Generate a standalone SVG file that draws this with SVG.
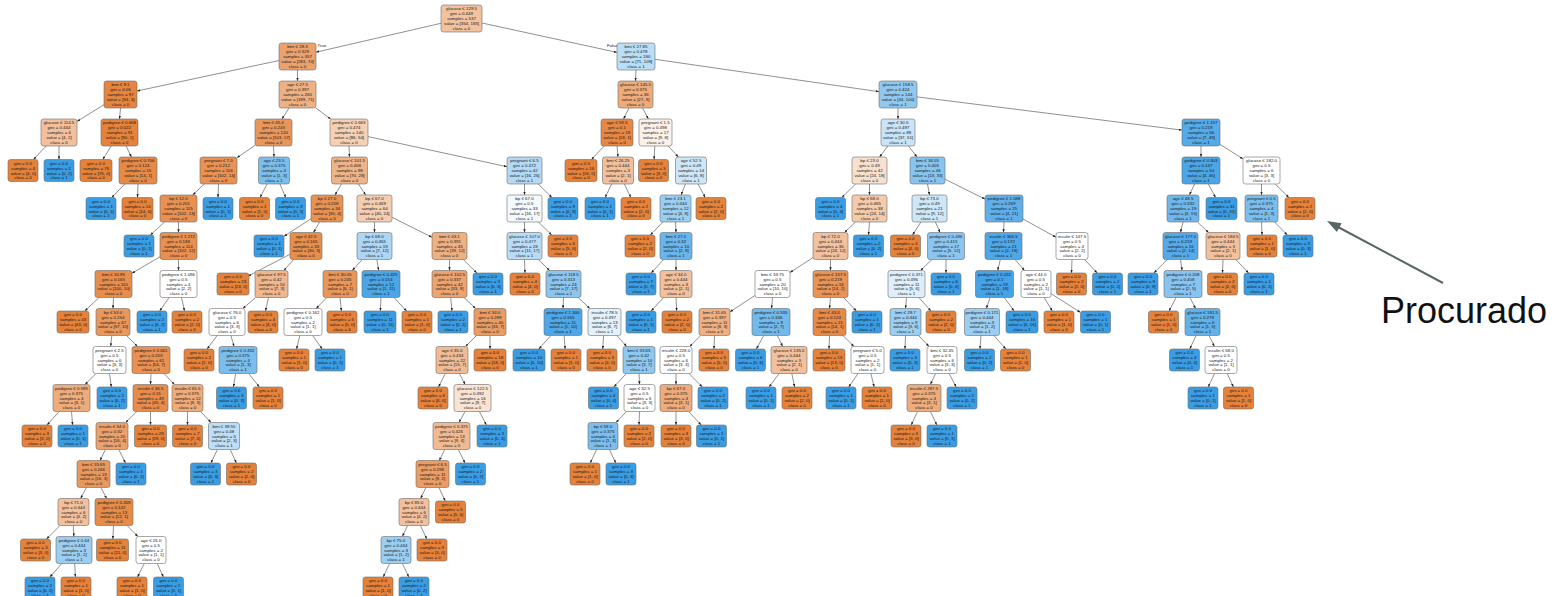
<svg xmlns="http://www.w3.org/2000/svg" width="1562" height="596" viewBox="0 0 1562 596">
<style>
rect{stroke:#6b6b6b;stroke-width:0.6;rx:2.5px;ry:2.5px}
.lo{fill:#e58139}.lb{fill:#399de5}.w{fill:#ffffff}
text{font-family:"Liberation Sans",Arial,sans-serif;font-size:4.4px;text-anchor:middle;fill:#1a1a1a}
#edges path{stroke:#333;stroke-width:0.55;fill:none;marker-end:url(#ah)}
.lbl{text-anchor:start}
</style>
<defs>
<marker id="ah" markerUnits="userSpaceOnUse" viewBox="0 0 3.2 2.4" markerWidth="3.2" markerHeight="2.4" refX="3.2" refY="1.2" orient="auto"><path d="M0,0L3.2,1.2L0,2.4z" fill="#222"/></marker>
</defs>
<rect x="0" y="0" width="1562" height="596" style="fill:#fff;stroke:none"/>
<g id="edges">
<path d="M441 23.3L316 52.2"/><path d="M482 23L617 52.4"/><path d="M279 60.5L137 91"/><path d="M297.5 70L297.5 81"/><path d="M636 70L635.5 81"/><path d="M655 59.3L879 91.7"/>
<path d="M104 104.7L77 121.4"/><path d="M120.5 108L119.5 119"/><path d="M289 108L282 119"/><path d="M315.8 108L330.7 119"/><path d="M628.9 108L623.6 119"/><path d="M642.6 108L648.4 119"/><path d="M898 108L898 119"/><path d="M917 96.9L1182 130.1"/>
<path d="M46.2 146L33.4 159.5"/><path d="M59 146L59 159.5"/><path d="M111.2 146L102.8 159.5"/><path d="M126.1 146L131.4 157"/><path d="M255 145.3L237 157.7"/><path d="M273.5 146L274 157"/><path d="M349 146L349.5 157"/><path d="M368 136.6L507 166.7"/><path d="M604.2 146L591.4 159.5"/><path d="M617 146L618 157"/><path d="M654.8 146L654.1 159.5"/><path d="M668.1 146L678.4 157"/><path d="M887.9 146L879.6 157"/><path d="M908.5 146L917 157"/><path d="M1201 146L1201 157"/><path d="M1220 144.4L1243 158.9"/>
<path d="M124.9 184L111.7 197.5"/><path d="M138 184L137.5 197.5"/><path d="M204.3 184L192.7 195"/><path d="M218.5 184L218 197.5"/><path d="M267.1 184L260.1 197.5"/><path d="M279.9 184L285.7 197.5"/><path d="M341.5 184L335 195"/><path d="M358.4 184L365.6 195"/><path d="M524.5 184L524.5 195"/><path d="M538.2 184L551.9 197.5"/><path d="M611.6 184L605.2 197.5"/><path d="M624.4 184L630.8 197.5"/><path d="M685.5 184L681 195"/><path d="M698.1 184L705.2 197.5"/><path d="M855.6 184L841.8 197.5"/><path d="M869.5 184L869.5 195"/><path d="M927.5 184L929.5 195"/><path d="M945 179.2L985 199.1"/><path d="M1194.6 184L1189.4 195"/><path d="M1208.3 184L1215.6 197.5"/><path d="M1261.5 184L1261.5 195"/><path d="M1275.2 184L1288.9 197.5"/>
<path d="M164.5 222L150.4 235"/><path d="M178.5 222L178.5 232.5"/><path d="M311 218.8L284 236.3"/><path d="M319.5 222L313.5 232.5"/><path d="M374.5 222L374.5 232.5"/><path d="M392 217.3L432 237.3"/><path d="M524.5 222L524.5 232.5"/><path d="M538.4 222L551.7 235"/><path d="M662.7 222L650.4 235"/><path d="M675.5 222L676 232.5"/><path d="M855.5 222L844.5 232.5"/><path d="M869.5 222L868.5 235"/><path d="M920.9 222L912.5 235"/><path d="M935.4 222L940.1 232.5"/><path d="M1004 222L1003.5 232.5"/><path d="M1023 219L1056 237.2"/><path d="M1183 222L1180.5 232.5"/><path d="M1197.4 222L1208.6 232.5"/><path d="M1261.5 222L1262 235"/><path d="M1274.6 222L1287.3 235"/>
<path d="M160 256.8L132 273.2"/><path d="M178.5 259.5L178.5 270.5"/><path d="M290 254.3L248 276.2"/><path d="M293.7 259.5L283.8 270.5"/><path d="M362.2 259.5L352.3 270.5"/><path d="M376.8 259.5L378.7 270.5"/><path d="M449.5 259.5L449.5 270.5"/><path d="M463.2 259.5L476.9 273"/><path d="M524.5 259.5L525 273"/><path d="M538.4 259.5L549.6 270.5"/><path d="M663.6 259.5L651.1 273"/><path d="M676 259.5L676 270.5"/><path d="M813 257.5L790 272.5"/><path d="M830.5 259.5L830.5 270.5"/><path d="M932 259.5L920.5 270.5"/><path d="M946 259.5L946 273"/><path d="M1000.3 259.5L997.7 270.5"/><path d="M1015 259.5L1024.5 270.5"/><path d="M1072 259.5L1071.5 273"/><path d="M1084.6 259.5L1097.2 273"/><path d="M1167.2 259.5L1153.9 273"/><path d="M1180.5 259.5L1182.1 270.5"/><path d="M1223 259.5L1222.5 273"/><path d="M1235.8 259.5L1248.6 273"/>
<path d="M99.1 297.5L84.7 311"/><path d="M113.5 297.5L113 308.5"/><path d="M169.1 297.5L159.7 311"/><path d="M181.5 297.5L184.5 311"/><path d="M255.7 297.5L242.8 308.5"/><path d="M268.5 297.5L265.5 311"/><path d="M326.9 297.5L316.1 308.5"/><path d="M340 297.5L341.4 311"/><path d="M381 297.5L380.3 311"/><path d="M393.8 297.5L406.6 311"/><path d="M450.7 297.5L452 311"/><path d="M463.9 297.5L475.6 308.5"/><path d="M563.5 297.5L563 308.5"/><path d="M578.1 297.5L589.9 308.5"/><path d="M663.6 297.5L651.1 311"/><path d="M676 297.5L676.7 311"/><path d="M755 295.5L730 311.8"/><path d="M772.5 297.5L771.5 308.5"/><path d="M830.5 297.5L829.5 308.5"/><path d="M843.5 297.5L856.4 311"/><path d="M906.5 297.5L905.5 308.5"/><path d="M918.8 297.5L931 311"/><path d="M990.1 297.5L986.4 308.5"/><path d="M1004.3 297.5L1014 311"/><path d="M1044.2 297.5L1052.3 311"/><path d="M1051 293.6L1080.5 312.4"/><path d="M1176.1 297.5L1169.1 311"/><path d="M1189.9 297.5L1195.6 308.5"/>
<path d="M111.8 335.5L110.7 346.5"/><path d="M126.5 335.5L137.5 346.5"/><path d="M217.1 335.5L207.1 349"/><path d="M230.9 335.5L234.1 346.5"/><path d="M299.8 335.5L296.6 349"/><path d="M312.6 335.5L322.2 349"/><path d="M476.5 335.5L465.5 346.5"/><path d="M490 335.5L490 349"/><path d="M550.9 335.5L538.8 349"/><path d="M564.1 335.5L565.1 349"/><path d="M603.6 335.5L602.7 349"/><path d="M616.8 335.5L626.7 346.5"/><path d="M700.8 335.5L689.7 346.5"/><path d="M714.5 335.5L714 349"/><path d="M763.7 335.5L756.4 349"/><path d="M777.4 335.5L782.6 346.5"/><path d="M829.5 335.5L829 349"/><path d="M843 335.5L854 346.5"/><path d="M905.5 335.5L905 349"/><path d="M918.5 335.5L929 346.5"/><path d="M981 335.5L980 349"/><path d="M993.9 335.5L1005.8 349"/><path d="M1196.1 335.5L1189.7 349"/><path d="M1209.1 335.5L1214.4 346.5"/>
<path d="M96 373.5L85 384.5"/><path d="M109.5 373.5L111.3 387"/><path d="M151 373.5L150.5 384.5"/><path d="M164 373.5L174.5 384.5"/><path d="M235.7 373.5L233.4 387"/><path d="M248.7 373.5L259.3 387"/><path d="M445.3 373.5L438.5 387"/><path d="M459.3 373.5L465.2 384.5"/><path d="M626.4 373.5L613.8 387"/><path d="M639 373.5L639.5 384.5"/><path d="M676 373.5L676 384.5"/><path d="M689.1 373.5L702.3 387"/><path d="M779.1 373.5L769.1 387"/><path d="M791.8 373.5L794.7 387"/><path d="M858.1 373.5L848.7 387"/><path d="M870.9 373.5L874.2 387"/><path d="M935.6 373.5L930.4 384.5"/><path d="M949.1 373.5L956.2 387"/><path d="M1214.6 373.5L1208.2 387"/><path d="M1227.2 373.5L1233.4 387"/>
<path d="M59.2 411.5L47 425"/><path d="M71.5 411.5L72.6 425"/><path d="M136.8 411.5L125.7 422.5"/><path d="M150.5 411.5L150.5 425"/><path d="M187.5 411.5L187.5 425"/><path d="M200.5 411.5L211 422.5"/><path d="M465 411.5L459 422.5"/><path d="M479.4 411.5L486.4 425"/><path d="M626.5 411.5L616 422.5"/><path d="M639.5 411.5L639 425"/><path d="M676 411.5L676 425"/><path d="M688.6 411.5L701.2 425"/><path d="M917.6 411.5L911.2 425"/><path d="M930.4 411.5L936.8 425"/>
<path d="M105.4 449.5L100.1 460.5"/><path d="M118.8 449.5L125.5 463"/><path d="M217.4 449.5L210.9 463"/><path d="M230.2 449.5L236.4 463"/><path d="M444.7 449.5L439.3 460.5"/><path d="M458.3 449.5L465 463"/><path d="M596.6 449.5L590.2 463"/><path d="M609.4 449.5L615.8 463"/>
<path d="M86.4 487.5L80.6 498.5"/><path d="M100.8 487.5L106.7 498.5"/><path d="M425.9 487.5L420.6 498.5"/><path d="M438.9 487.5L445.3 501"/>
<path d="M60 525.5L46.5 539"/><path d="M73.5 525.5L73.8 536.5"/><path d="M113.5 525.5L112.9 539"/><path d="M127.1 525.5L137.9 536.5"/><path d="M407.6 525.5L402.4 536.5"/><path d="M420.4 525.5L426.8 539"/>
<path d="M61.9 563.5L49.8 577"/><path d="M74.7 563.5L75.4 577"/><path d="M144.3 563.5L137.5 577"/><path d="M157.2 563.5L163.4 577"/><path d="M389.6 563.5L383.2 577"/><path d="M402.4 563.5L408.8 577"/>
</g>
<text class="lbl" x="317.5" y="46.5">True</text>
<text class="lbl" x="607" y="46.5">False</text>

<g id="n0" transform="translate(461.5 18.5)"><rect style="fill:#f2c29f" x="-20.5" y="-13.5" width="41" height="27"/><text y="-8.25"><tspan x="0">glucose ≤ 129.5</tspan><tspan x="0" dy="4.9">gini = 0.449</tspan><tspan x="0" dy="4.9">samples = 537</tspan><tspan x="0" dy="4.9">value = [354, 183]</tspan><tspan x="0" dy="4.9">class = 0</tspan></text></g>
<g id="n1" transform="translate(297.5 56.5)"><rect style="fill:#eca26d" x="-18.5" y="-13.5" width="37" height="27"/><text y="-8.25"><tspan x="0">bmi ≤ 28.3</tspan><tspan x="0" dy="4.9">gini = 0.329</tspan><tspan x="0" dy="4.9">samples = 357</tspan><tspan x="0" dy="4.9">value = [283, 74]</tspan><tspan x="0" dy="4.9">class = 0</tspan></text></g>
<g id="n2" transform="translate(636 56.5)"><rect style="fill:#badef6" x="-19" y="-13.5" width="38" height="27"/><text y="-8.25"><tspan x="0">bmi ≤ 27.85</tspan><tspan x="0" dy="4.9">gini = 0.478</tspan><tspan x="0" dy="4.9">samples = 180</tspan><tspan x="0" dy="4.9">value = [71, 109]</tspan><tspan x="0" dy="4.9">class = 1</tspan></text></g>
<g id="n3" transform="translate(120.5 94.5)"><rect style="fill:#e6853f" x="-16.5" y="-13.5" width="33" height="27"/><text y="-8.25"><tspan x="0">bmi ≤ 9.1</tspan><tspan x="0" dy="4.9">gini = 0.06</tspan><tspan x="0" dy="4.9">samples = 97</tspan><tspan x="0" dy="4.9">value = [94, 3]</tspan><tspan x="0" dy="4.9">class = 0</tspan></text></g>
<g id="n4" transform="translate(297.5 94.5)"><rect style="fill:#efb083" x="-18.5" y="-13.5" width="37" height="27"/><text y="-8.25"><tspan x="0">age ≤ 27.5</tspan><tspan x="0" dy="4.9">gini = 0.397</tspan><tspan x="0" dy="4.9">samples = 260</tspan><tspan x="0" dy="4.9">value = [189, 71]</tspan><tspan x="0" dy="4.9">class = 0</tspan></text></g>
<g id="n5" transform="translate(635.5 94.5)"><rect style="fill:#eeab7b" x="-17.5" y="-13.5" width="35" height="27"/><text y="-8.25"><tspan x="0">glucose ≤ 145.5</tspan><tspan x="0" dy="4.9">gini = 0.375</tspan><tspan x="0" dy="4.9">samples = 36</tspan><tspan x="0" dy="4.9">value = [27, 9]</tspan><tspan x="0" dy="4.9">class = 0</tspan></text></g>
<g id="n6" transform="translate(898 94.5)"><rect style="fill:#90c8f0" x="-19" y="-13.5" width="38" height="27"/><text y="-8.25"><tspan x="0">glucose ≤ 158.5</tspan><tspan x="0" dy="4.9">gini = 0.424</tspan><tspan x="0" dy="4.9">samples = 144</tspan><tspan x="0" dy="4.9">value = [44, 100]</tspan><tspan x="0" dy="4.9">class = 1</tspan></text></g>

<g id="n7" transform="translate(59 132.5)"><rect style="fill:#f2c09c" x="-18" y="-13.5" width="36" height="27"/><text y="-8.25"><tspan x="0">glucose ≤ 114.5</tspan><tspan x="0" dy="4.9">gini = 0.444</tspan><tspan x="0" dy="4.9">samples = 6</tspan><tspan x="0" dy="4.9">value = [4, 2]</tspan><tspan x="0" dy="4.9">class = 0</tspan></text></g>
<g id="n8" transform="translate(119.5 132.5)"><rect style="fill:#e5823b" x="-18.5" y="-13.5" width="37" height="27"/><text y="-8.25"><tspan x="0">pedigree ≤ 0.668</tspan><tspan x="0" dy="4.9">gini = 0.022</tspan><tspan x="0" dy="4.9">samples = 91</tspan><tspan x="0" dy="4.9">value = [90, 1]</tspan><tspan x="0" dy="4.9">class = 0</tspan></text></g>
<g id="n9" transform="translate(273.5 132.5)"><rect style="fill:#e9965a" x="-18.5" y="-13.5" width="37" height="27"/><text y="-8.25"><tspan x="0">bmi ≤ 45.4</tspan><tspan x="0" dy="4.9">gini = 0.243</tspan><tspan x="0" dy="4.9">samples = 120</tspan><tspan x="0" dy="4.9">value = [103, 17]</tspan><tspan x="0" dy="4.9">class = 0</tspan></text></g>
<g id="n10" transform="translate(349 132.5)"><rect style="fill:#f5d0b5" x="-19" y="-13.5" width="38" height="27"/><text y="-8.25"><tspan x="0">pedigree ≤ 0.663</tspan><tspan x="0" dy="4.9">gini = 0.474</tspan><tspan x="0" dy="4.9">samples = 140</tspan><tspan x="0" dy="4.9">value = [86, 54]</tspan><tspan x="0" dy="4.9">class = 0</tspan></text></g>
<g id="n11" transform="translate(617 132.5)"><rect style="fill:#e68844" x="-16" y="-13.5" width="32" height="27"/><text y="-8.25"><tspan x="0">age ≤ 59.5</tspan><tspan x="0" dy="4.9">gini = 0.1</tspan><tspan x="0" dy="4.9">samples = 19</tspan><tspan x="0" dy="4.9">value = [18, 1]</tspan><tspan x="0" dy="4.9">class = 0</tspan></text></g>
<g id="n12" transform="translate(655.5 132.5)"><rect style="fill:#fcf1e9" x="-16.5" y="-13.5" width="33" height="27"/><text y="-8.25"><tspan x="0">pregnant ≤ 1.5</tspan><tspan x="0" dy="4.9">gini = 0.498</tspan><tspan x="0" dy="4.9">samples = 17</tspan><tspan x="0" dy="4.9">value = [9, 8]</tspan><tspan x="0" dy="4.9">class = 0</tspan></text></g>
<g id="n13" transform="translate(898 132.5)"><rect style="fill:#c9e4f8" x="-17" y="-13.5" width="34" height="27"/><text y="-8.25"><tspan x="0">age ≤ 30.5</tspan><tspan x="0" dy="4.9">gini = 0.497</tspan><tspan x="0" dy="4.9">samples = 88</tspan><tspan x="0" dy="4.9">value = [37, 51]</tspan><tspan x="0" dy="4.9">class = 1</tspan></text></g>
<g id="n14" transform="translate(1201 132.5)"><rect style="fill:#55abe9" x="-19" y="-13.5" width="38" height="27"/><text y="-8.25"><tspan x="0">pedigree ≤ 1.157</tspan><tspan x="0" dy="4.9">gini = 0.219</tspan><tspan x="0" dy="4.9">samples = 56</tspan><tspan x="0" dy="4.9">value = [7, 49]</tspan><tspan x="0" dy="4.9">class = 1</tspan></text></g>

<g id="n15" transform="translate(23 170.5)"><rect class="lo" x="-15" y="-11" width="30" height="22"/><text y="-5.8"><tspan x="0">gini = 0.0</tspan><tspan x="0" dy="4.9">samples = 4</tspan><tspan x="0" dy="4.9">value = [4, 0]</tspan><tspan x="0" dy="4.9">class = 0</tspan></text></g>
<g id="n16" transform="translate(59 170.5)"><rect class="lb" x="-15" y="-11" width="30" height="22"/><text y="-5.8"><tspan x="0">gini = 0.0</tspan><tspan x="0" dy="4.9">samples = 2</tspan><tspan x="0" dy="4.9">value = [0, 2]</tspan><tspan x="0" dy="4.9">class = 1</tspan></text></g>
<g id="n17" transform="translate(96 170.5)"><rect class="lo" x="-16" y="-11" width="32" height="22"/><text y="-5.8"><tspan x="0">gini = 0.0</tspan><tspan x="0" dy="4.9">samples = 76</tspan><tspan x="0" dy="4.9">value = [76, 0]</tspan><tspan x="0" dy="4.9">class = 0</tspan></text></g>
<g id="n18" transform="translate(138 170.5)"><rect style="fill:#e78a47" x="-19" y="-13.5" width="38" height="27"/><text y="-8.25"><tspan x="0">pedigree ≤ 0.706</tspan><tspan x="0" dy="4.9">gini = 0.124</tspan><tspan x="0" dy="4.9">samples = 15</tspan><tspan x="0" dy="4.9">value = [14, 1]</tspan><tspan x="0" dy="4.9">class = 0</tspan></text></g>
<g id="n19" transform="translate(218.5 170.5)"><rect style="fill:#e99254" x="-18.5" y="-13.5" width="37" height="27"/><text y="-8.25"><tspan x="0">pregnant ≤ 7.0</tspan><tspan x="0" dy="4.9">gini = 0.212</tspan><tspan x="0" dy="4.9">samples = 116</tspan><tspan x="0" dy="4.9">value = [102, 14]</tspan><tspan x="0" dy="4.9">class = 0</tspan></text></g>
<g id="n20" transform="translate(274 170.5)"><rect style="fill:#7bbeee" x="-15.5" y="-13.5" width="31" height="27"/><text y="-8.25"><tspan x="0">age ≤ 23.5</tspan><tspan x="0" dy="4.9">gini = 0.375</tspan><tspan x="0" dy="4.9">samples = 4</tspan><tspan x="0" dy="4.9">value = [1, 3]</tspan><tspan x="0" dy="4.9">class = 1</tspan></text></g>
<g id="n21" transform="translate(349.5 170.5)"><rect style="fill:#efb388" x="-18" y="-13.5" width="36" height="27"/><text y="-8.25"><tspan x="0">glucose ≤ 101.5</tspan><tspan x="0" dy="4.9">gini = 0.408</tspan><tspan x="0" dy="4.9">samples = 98</tspan><tspan x="0" dy="4.9">value = [70, 28]</tspan><tspan x="0" dy="4.9">class = 0</tspan></text></g>
<g id="n22" transform="translate(524.5 170.5)"><rect style="fill:#b3d9f5" x="-17.5" y="-13.5" width="35" height="27"/><text y="-8.25"><tspan x="0">pregnant ≤ 6.5</tspan><tspan x="0" dy="4.9">gini = 0.472</tspan><tspan x="0" dy="4.9">samples = 42</tspan><tspan x="0" dy="4.9">value = [16, 26]</tspan><tspan x="0" dy="4.9">class = 1</tspan></text></g>
<g id="n23" transform="translate(581 170.5)"><rect class="lo" x="-16" y="-11" width="32" height="22"/><text y="-5.8"><tspan x="0">gini = 0.0</tspan><tspan x="0" dy="4.9">samples = 16</tspan><tspan x="0" dy="4.9">value = [16, 0]</tspan><tspan x="0" dy="4.9">class = 0</tspan></text></g>
<g id="n24" transform="translate(618 170.5)"><rect style="fill:#f2c09c" x="-15.5" y="-13.5" width="31" height="27"/><text y="-8.25"><tspan x="0">bmi ≤ 26.25</tspan><tspan x="0" dy="4.9">gini = 0.444</tspan><tspan x="0" dy="4.9">samples = 3</tspan><tspan x="0" dy="4.9">value = [2, 1]</tspan><tspan x="0" dy="4.9">class = 0</tspan></text></g>
<g id="n25" transform="translate(653.5 170.5)"><rect class="lo" x="-15" y="-11" width="30" height="22"/><text y="-5.8"><tspan x="0">gini = 0.0</tspan><tspan x="0" dy="4.9">samples = 3</tspan><tspan x="0" dy="4.9">value = [3, 0]</tspan><tspan x="0" dy="4.9">class = 0</tspan></text></g>
<g id="n26" transform="translate(691 170.5)"><rect style="fill:#cde6f8" x="-15.5" y="-13.5" width="31" height="27"/><text y="-8.25"><tspan x="0">age ≤ 52.5</tspan><tspan x="0" dy="4.9">gini = 0.49</tspan><tspan x="0" dy="4.9">samples = 14</tspan><tspan x="0" dy="4.9">value = [6, 8]</tspan><tspan x="0" dy="4.9">class = 1</tspan></text></g>
<g id="n27" transform="translate(869.5 170.5)"><rect style="fill:#f8e0ce" x="-17.5" y="-13.5" width="35" height="27"/><text y="-8.25"><tspan x="0">bp ≤ 23.0</tspan><tspan x="0" dy="4.9">gini = 0.49</tspan><tspan x="0" dy="4.9">samples = 42</tspan><tspan x="0" dy="4.9">value = [24, 18]</tspan><tspan x="0" dy="4.9">class = 0</tspan></text></g>
<g id="n28" transform="translate(927.5 170.5)"><rect style="fill:#87c4ef" x="-17.5" y="-13.5" width="35" height="27"/><text y="-8.25"><tspan x="0">bmi ≤ 36.05</tspan><tspan x="0" dy="4.9">gini = 0.405</tspan><tspan x="0" dy="4.9">samples = 46</tspan><tspan x="0" dy="4.9">value = [13, 33]</tspan><tspan x="0" dy="4.9">class = 1</tspan></text></g>
<g id="n29" transform="translate(1201 170.5)"><rect style="fill:#4aa6e7" x="-19" y="-13.5" width="38" height="27"/><text y="-8.25"><tspan x="0">pedigree ≤ 0.303</tspan><tspan x="0" dy="4.9">gini = 0.147</tspan><tspan x="0" dy="4.9">samples = 50</tspan><tspan x="0" dy="4.9">value = [4, 46]</tspan><tspan x="0" dy="4.9">class = 1</tspan></text></g>
<g id="n30" transform="translate(1261.5 170.5)"><rect class="w" x="-18.5" y="-13.5" width="37" height="27"/><text y="-8.25"><tspan x="0">glucose ≤ 182.0</tspan><tspan x="0" dy="4.9">gini = 0.5</tspan><tspan x="0" dy="4.9">samples = 6</tspan><tspan x="0" dy="4.9">value = [3, 3]</tspan><tspan x="0" dy="4.9">class = 0</tspan></text></g>

<g id="n31" transform="translate(101 208.5)"><rect class="lb" x="-15" y="-11" width="30" height="22"/><text y="-5.8"><tspan x="0">gini = 0.0</tspan><tspan x="0" dy="4.9">samples = 1</tspan><tspan x="0" dy="4.9">value = [0, 1]</tspan><tspan x="0" dy="4.9">class = 1</tspan></text></g>
<g id="n32" transform="translate(137.5 208.5)"><rect class="lo" x="-15.5" y="-11" width="31" height="22"/><text y="-5.8"><tspan x="0">gini = 0.0</tspan><tspan x="0" dy="4.9">samples = 14</tspan><tspan x="0" dy="4.9">value = [14, 0]</tspan><tspan x="0" dy="4.9">class = 0</tspan></text></g>
<g id="n33" transform="translate(178.5 208.5)"><rect style="fill:#e89152" x="-18.5" y="-13.5" width="37" height="27"/><text y="-8.25"><tspan x="0">bp ≤ 12.0</tspan><tspan x="0" dy="4.9">gini = 0.201</tspan><tspan x="0" dy="4.9">samples = 115</tspan><tspan x="0" dy="4.9">value = [102, 13]</tspan><tspan x="0" dy="4.9">class = 0</tspan></text></g>
<g id="n34" transform="translate(218 208.5)"><rect class="lb" x="-15" y="-11" width="30" height="22"/><text y="-5.8"><tspan x="0">gini = 0.0</tspan><tspan x="0" dy="4.9">samples = 1</tspan><tspan x="0" dy="4.9">value = [0, 1]</tspan><tspan x="0" dy="4.9">class = 1</tspan></text></g>
<g id="n35" transform="translate(254.5 208.5)"><rect class="lo" x="-15" y="-11" width="30" height="22"/><text y="-5.8"><tspan x="0">gini = 0.0</tspan><tspan x="0" dy="4.9">samples = 1</tspan><tspan x="0" dy="4.9">value = [1, 0]</tspan><tspan x="0" dy="4.9">class = 0</tspan></text></g>
<g id="n36" transform="translate(290.5 208.5)"><rect class="lb" x="-15" y="-11" width="30" height="22"/><text y="-5.8"><tspan x="0">gini = 0.0</tspan><tspan x="0" dy="4.9">samples = 3</tspan><tspan x="0" dy="4.9">value = [0, 3]</tspan><tspan x="0" dy="4.9">class = 1</tspan></text></g>
<g id="n37" transform="translate(327 208.5)"><rect style="fill:#e89253" x="-16" y="-13.5" width="32" height="27"/><text y="-8.25"><tspan x="0">bp ≤ 27.0</tspan><tspan x="0" dy="4.9">gini = 0.208</tspan><tspan x="0" dy="4.9">samples = 34</tspan><tspan x="0" dy="4.9">value = [30, 4]</tspan><tspan x="0" dy="4.9">class = 0</tspan></text></g>
<g id="n38" transform="translate(374.5 208.5)"><rect style="fill:#f5cdb0" x="-17.5" y="-13.5" width="35" height="27"/><text y="-8.25"><tspan x="0">bp ≤ 67.0</tspan><tspan x="0" dy="4.9">gini = 0.469</tspan><tspan x="0" dy="4.9">samples = 64</tspan><tspan x="0" dy="4.9">value = [40, 24]</tspan><tspan x="0" dy="4.9">class = 0</tspan></text></g>
<g id="n39" transform="translate(524.5 208.5)"><rect style="fill:#f3f9fd" x="-17.5" y="-13.5" width="35" height="27"/><text y="-8.25"><tspan x="0">bp ≤ 67.0</tspan><tspan x="0" dy="4.9">gini = 0.5</tspan><tspan x="0" dy="4.9">samples = 33</tspan><tspan x="0" dy="4.9">value = [16, 17]</tspan><tspan x="0" dy="4.9">class = 1</tspan></text></g>
<g id="n40" transform="translate(563 208.5)"><rect class="lb" x="-15" y="-11" width="30" height="22"/><text y="-5.8"><tspan x="0">gini = 0.0</tspan><tspan x="0" dy="4.9">samples = 9</tspan><tspan x="0" dy="4.9">value = [0, 9]</tspan><tspan x="0" dy="4.9">class = 1</tspan></text></g>
<g id="n41" transform="translate(600 208.5)"><rect class="lb" x="-15" y="-11" width="30" height="22"/><text y="-5.8"><tspan x="0">gini = 0.0</tspan><tspan x="0" dy="4.9">samples = 1</tspan><tspan x="0" dy="4.9">value = [0, 1]</tspan><tspan x="0" dy="4.9">class = 1</tspan></text></g>
<g id="n42" transform="translate(636 208.5)"><rect class="lo" x="-15" y="-11" width="30" height="22"/><text y="-5.8"><tspan x="0">gini = 0.0</tspan><tspan x="0" dy="4.9">samples = 2</tspan><tspan x="0" dy="4.9">value = [2, 0]</tspan><tspan x="0" dy="4.9">class = 0</tspan></text></g>
<g id="n43" transform="translate(675.5 208.5)"><rect style="fill:#9ccef2" x="-15.5" y="-13.5" width="31" height="27"/><text y="-8.25"><tspan x="0">bmi ≤ 23.1</tspan><tspan x="0" dy="4.9">gini = 0.444</tspan><tspan x="0" dy="4.9">samples = 12</tspan><tspan x="0" dy="4.9">value = [4, 8]</tspan><tspan x="0" dy="4.9">class = 1</tspan></text></g>
<g id="n44" transform="translate(711 208.5)"><rect class="lo" x="-15" y="-11" width="30" height="22"/><text y="-5.8"><tspan x="0">gini = 0.0</tspan><tspan x="0" dy="4.9">samples = 2</tspan><tspan x="0" dy="4.9">value = [2, 0]</tspan><tspan x="0" dy="4.9">class = 0</tspan></text></g>
<g id="n45" transform="translate(830.5 208.5)"><rect class="lb" x="-15" y="-11" width="30" height="22"/><text y="-5.8"><tspan x="0">gini = 0.0</tspan><tspan x="0" dy="4.9">samples = 4</tspan><tspan x="0" dy="4.9">value = [0, 4]</tspan><tspan x="0" dy="4.9">class = 1</tspan></text></g>
<g id="n46" transform="translate(869.5 208.5)"><rect style="fill:#f4caac" x="-17.5" y="-13.5" width="35" height="27"/><text y="-8.25"><tspan x="0">bp ≤ 68.0</tspan><tspan x="0" dy="4.9">gini = 0.465</tspan><tspan x="0" dy="4.9">samples = 38</tspan><tspan x="0" dy="4.9">value = [24, 14]</tspan><tspan x="0" dy="4.9">class = 0</tspan></text></g>
<g id="n47" transform="translate(929.5 208.5)"><rect style="fill:#cde6f8" x="-17.5" y="-13.5" width="35" height="27"/><text y="-8.25"><tspan x="0">bp ≤ 73.0</tspan><tspan x="0" dy="4.9">gini = 0.49</tspan><tspan x="0" dy="4.9">samples = 21</tspan><tspan x="0" dy="4.9">value = [9, 12]</tspan><tspan x="0" dy="4.9">class = 1</tspan></text></g>
<g id="n48" transform="translate(1004 208.5)"><rect style="fill:#5fb0ea" x="-19" y="-13.5" width="38" height="27"/><text y="-8.25"><tspan x="0">pedigree ≤ 1.088</tspan><tspan x="0" dy="4.9">gini = 0.269</tspan><tspan x="0" dy="4.9">samples = 25</tspan><tspan x="0" dy="4.9">value = [4, 21]</tspan><tspan x="0" dy="4.9">class = 1</tspan></text></g>
<g id="n49" transform="translate(1183 208.5)"><rect style="fill:#6eb7ec" x="-16" y="-13.5" width="32" height="27"/><text y="-8.25"><tspan x="0">age ≤ 48.5</tspan><tspan x="0" dy="4.9">gini = 0.332</tspan><tspan x="0" dy="4.9">samples = 19</tspan><tspan x="0" dy="4.9">value = [4, 15]</tspan><tspan x="0" dy="4.9">class = 1</tspan></text></g>
<g id="n50" transform="translate(1221.5 208.5)"><rect class="lb" x="-15.5" y="-11" width="31" height="22"/><text y="-5.8"><tspan x="0">gini = 0.0</tspan><tspan x="0" dy="4.9">samples = 31</tspan><tspan x="0" dy="4.9">value = [0, 31]</tspan><tspan x="0" dy="4.9">class = 1</tspan></text></g>
<g id="n51" transform="translate(1261.5 208.5)"><rect style="fill:#7bbeee" x="-16.5" y="-13.5" width="33" height="27"/><text y="-8.25"><tspan x="0">pregnant ≤ 0.5</tspan><tspan x="0" dy="4.9">gini = 0.375</tspan><tspan x="0" dy="4.9">samples = 4</tspan><tspan x="0" dy="4.9">value = [1, 3]</tspan><tspan x="0" dy="4.9">class = 1</tspan></text></g>
<g id="n52" transform="translate(1300 208.5)"><rect class="lo" x="-15" y="-11" width="30" height="22"/><text y="-5.8"><tspan x="0">gini = 0.0</tspan><tspan x="0" dy="4.9">samples = 2</tspan><tspan x="0" dy="4.9">value = [2, 0]</tspan><tspan x="0" dy="4.9">class = 0</tspan></text></g>

<g id="n53" transform="translate(139 246)"><rect class="lb" x="-15" y="-11" width="30" height="22"/><text y="-5.8"><tspan x="0">gini = 0.0</tspan><tspan x="0" dy="4.9">samples = 1</tspan><tspan x="0" dy="4.9">value = [0, 1]</tspan><tspan x="0" dy="4.9">class = 1</tspan></text></g>
<g id="n54" transform="translate(178.5 246)"><rect style="fill:#e89050" x="-18.5" y="-13.5" width="37" height="27"/><text y="-8.25"><tspan x="0">pedigree ≤ 1.272</tspan><tspan x="0" dy="4.9">gini = 0.188</tspan><tspan x="0" dy="4.9">samples = 114</tspan><tspan x="0" dy="4.9">value = [102, 12]</tspan><tspan x="0" dy="4.9">class = 0</tspan></text></g>
<g id="n55" transform="translate(269 246)"><rect class="lb" x="-15" y="-11" width="30" height="22"/><text y="-5.8"><tspan x="0">gini = 0.0</tspan><tspan x="0" dy="4.9">samples = 1</tspan><tspan x="0" dy="4.9">value = [0, 1]</tspan><tspan x="0" dy="4.9">class = 1</tspan></text></g>
<g id="n56" transform="translate(306 246)"><rect style="fill:#e88e4d" x="-16" y="-13.5" width="32" height="27"/><text y="-8.25"><tspan x="0">age ≤ 42.5</tspan><tspan x="0" dy="4.9">gini = 0.165</tspan><tspan x="0" dy="4.9">samples = 33</tspan><tspan x="0" dy="4.9">value = [30, 3]</tspan><tspan x="0" dy="4.9">class = 0</tspan></text></g>
<g id="n57" transform="translate(374.5 246)"><rect style="fill:#acd6f4" x="-17.5" y="-13.5" width="35" height="27"/><text y="-8.25"><tspan x="0">bp ≤ 68.0</tspan><tspan x="0" dy="4.9">gini = 0.465</tspan><tspan x="0" dy="4.9">samples = 19</tspan><tspan x="0" dy="4.9">value = [7, 12]</tspan><tspan x="0" dy="4.9">class = 1</tspan></text></g>
<g id="n58" transform="translate(449.5 246)"><rect style="fill:#eeaf81" x="-17.5" y="-13.5" width="35" height="27"/><text y="-8.25"><tspan x="0">bmi ≤ 43.1</tspan><tspan x="0" dy="4.9">gini = 0.391</tspan><tspan x="0" dy="4.9">samples = 45</tspan><tspan x="0" dy="4.9">value = [33, 12]</tspan><tspan x="0" dy="4.9">class = 0</tspan></text></g>
<g id="n59" transform="translate(524.5 246)"><rect style="fill:#b9dcf6" x="-17.5" y="-13.5" width="35" height="27"/><text y="-8.25"><tspan x="0">glucose ≤ 107.0</tspan><tspan x="0" dy="4.9">gini = 0.477</tspan><tspan x="0" dy="4.9">samples = 28</tspan><tspan x="0" dy="4.9">value = [11, 17]</tspan><tspan x="0" dy="4.9">class = 1</tspan></text></g>
<g id="n60" transform="translate(563 246)"><rect class="lo" x="-15" y="-11" width="30" height="22"/><text y="-5.8"><tspan x="0">gini = 0.0</tspan><tspan x="0" dy="4.9">samples = 5</tspan><tspan x="0" dy="4.9">value = [5, 0]</tspan><tspan x="0" dy="4.9">class = 0</tspan></text></g>
<g id="n61" transform="translate(640 246)"><rect class="lo" x="-15" y="-11" width="30" height="22"/><text y="-5.8"><tspan x="0">gini = 0.0</tspan><tspan x="0" dy="4.9">samples = 2</tspan><tspan x="0" dy="4.9">value = [2, 0]</tspan><tspan x="0" dy="4.9">class = 0</tspan></text></g>
<g id="n62" transform="translate(676 246)"><rect style="fill:#6ab6ec" x="-16" y="-13.5" width="32" height="27"/><text y="-8.25"><tspan x="0">bmi ≤ 27.0</tspan><tspan x="0" dy="4.9">gini = 0.32</tspan><tspan x="0" dy="4.9">samples = 10</tspan><tspan x="0" dy="4.9">value = [2, 8]</tspan><tspan x="0" dy="4.9">class = 1</tspan></text></g>
<g id="n63" transform="translate(830.5 246)"><rect style="fill:#f2c09c" x="-17.5" y="-13.5" width="35" height="27"/><text y="-8.25"><tspan x="0">bp ≤ 72.0</tspan><tspan x="0" dy="4.9">gini = 0.444</tspan><tspan x="0" dy="4.9">samples = 36</tspan><tspan x="0" dy="4.9">value = [24, 12]</tspan><tspan x="0" dy="4.9">class = 0</tspan></text></g>
<g id="n64" transform="translate(868.5 246)"><rect class="lb" x="-15" y="-11" width="30" height="22"/><text y="-5.8"><tspan x="0">gini = 0.0</tspan><tspan x="0" dy="4.9">samples = 2</tspan><tspan x="0" dy="4.9">value = [0, 2]</tspan><tspan x="0" dy="4.9">class = 1</tspan></text></g>
<g id="n65" transform="translate(905.5 246)"><rect class="lo" x="-15" y="-11" width="30" height="22"/><text y="-5.8"><tspan x="0">gini = 0.0</tspan><tspan x="0" dy="4.9">samples = 4</tspan><tspan x="0" dy="4.9">value = [4, 0]</tspan><tspan x="0" dy="4.9">class = 0</tspan></text></g>
<g id="n66" transform="translate(946 246)"><rect style="fill:#8cc6f0" x="-18.5" y="-13.5" width="37" height="27"/><text y="-8.25"><tspan x="0">pedigree ≤ 0.436</tspan><tspan x="0" dy="4.9">gini = 0.415</tspan><tspan x="0" dy="4.9">samples = 17</tspan><tspan x="0" dy="4.9">value = [5, 12]</tspan><tspan x="0" dy="4.9">class = 1</tspan></text></g>
<g id="n67" transform="translate(1003.5 246)"><rect style="fill:#4ea7e8" x="-18.5" y="-13.5" width="37" height="27"/><text y="-8.25"><tspan x="0">insulin ≤ 306.5</tspan><tspan x="0" dy="4.9">gini = 0.172</tspan><tspan x="0" dy="4.9">samples = 21</tspan><tspan x="0" dy="4.9">value = [2, 19]</tspan><tspan x="0" dy="4.9">class = 1</tspan></text></g>
<g id="n68" transform="translate(1072 246)"><rect class="w" x="-16" y="-13.5" width="32" height="27"/><text y="-8.25"><tspan x="0">insulin ≤ 147.5</tspan><tspan x="0" dy="4.9">gini = 0.5</tspan><tspan x="0" dy="4.9">samples = 4</tspan><tspan x="0" dy="4.9">value = [2, 2]</tspan><tspan x="0" dy="4.9">class = 0</tspan></text></g>
<g id="n69" transform="translate(1180.5 246)"><rect style="fill:#55abe9" x="-17.5" y="-13.5" width="35" height="27"/><text y="-8.25"><tspan x="0">glucose ≤ 177.0</tspan><tspan x="0" dy="4.9">gini = 0.219</tspan><tspan x="0" dy="4.9">samples = 16</tspan><tspan x="0" dy="4.9">value = [2, 14]</tspan><tspan x="0" dy="4.9">class = 1</tspan></text></g>
<g id="n70" transform="translate(1223 246)"><rect style="fill:#f2c09c" x="-17" y="-13.5" width="34" height="27"/><text y="-8.25"><tspan x="0">glucose ≤ 184.5</tspan><tspan x="0" dy="4.9">gini = 0.444</tspan><tspan x="0" dy="4.9">samples = 3</tspan><tspan x="0" dy="4.9">value = [2, 1]</tspan><tspan x="0" dy="4.9">class = 0</tspan></text></g>
<g id="n71" transform="translate(1262 246)"><rect class="lo" x="-15" y="-11" width="30" height="22"/><text y="-5.8"><tspan x="0">gini = 0.0</tspan><tspan x="0" dy="4.9">samples = 1</tspan><tspan x="0" dy="4.9">value = [1, 0]</tspan><tspan x="0" dy="4.9">class = 0</tspan></text></g>
<g id="n72" transform="translate(1298 246)"><rect class="lb" x="-15" y="-11" width="30" height="22"/><text y="-5.8"><tspan x="0">gini = 0.0</tspan><tspan x="0" dy="4.9">samples = 3</tspan><tspan x="0" dy="4.9">value = [0, 3]</tspan><tspan x="0" dy="4.9">class = 1</tspan></text></g>

<g id="n73" transform="translate(113.5 284)"><rect style="fill:#e88e4d" x="-18.5" y="-13.5" width="37" height="27"/><text y="-8.25"><tspan x="0">bmi ≤ 30.85</tspan><tspan x="0" dy="4.9">gini = 0.165</tspan><tspan x="0" dy="4.9">samples = 110</tspan><tspan x="0" dy="4.9">value = [100, 10]</tspan><tspan x="0" dy="4.9">class = 0</tspan></text></g>
<g id="n74" transform="translate(178.5 284)"><rect class="w" x="-18.5" y="-13.5" width="37" height="27"/><text y="-8.25"><tspan x="0">pedigree ≤ 1.096</tspan><tspan x="0" dy="4.9">gini = 0.5</tspan><tspan x="0" dy="4.9">samples = 4</tspan><tspan x="0" dy="4.9">value = [2, 2]</tspan><tspan x="0" dy="4.9">class = 0</tspan></text></g>
<g id="n75" transform="translate(233 284)"><rect class="lo" x="-16" y="-11" width="32" height="22"/><text y="-5.8"><tspan x="0">gini = 0.0</tspan><tspan x="0" dy="4.9">samples = 23</tspan><tspan x="0" dy="4.9">value = [23, 0]</tspan><tspan x="0" dy="4.9">class = 0</tspan></text></g>
<g id="n76" transform="translate(271.5 284)"><rect style="fill:#f0b78e" x="-16.5" y="-13.5" width="33" height="27"/><text y="-8.25"><tspan x="0">glucose ≤ 97.5</tspan><tspan x="0" dy="4.9">gini = 0.42</tspan><tspan x="0" dy="4.9">samples = 10</tspan><tspan x="0" dy="4.9">value = [7, 3]</tspan><tspan x="0" dy="4.9">class = 0</tspan></text></g>
<g id="n77" transform="translate(340 284)"><rect style="fill:#e9965a" x="-17" y="-13.5" width="34" height="27"/><text y="-8.25"><tspan x="0">bmi ≤ 30.05</tspan><tspan x="0" dy="4.9">gini = 0.245</tspan><tspan x="0" dy="4.9">samples = 7</tspan><tspan x="0" dy="4.9">value = [6, 1]</tspan><tspan x="0" dy="4.9">class = 0</tspan></text></g>
<g id="n78" transform="translate(381 284)"><rect style="fill:#4ba6e7" x="-19" y="-13.5" width="38" height="27"/><text y="-8.25"><tspan x="0">pedigree ≤ 0.425</tspan><tspan x="0" dy="4.9">gini = 0.153</tspan><tspan x="0" dy="4.9">samples = 12</tspan><tspan x="0" dy="4.9">value = [1, 11]</tspan><tspan x="0" dy="4.9">class = 1</tspan></text></g>
<g id="n79" transform="translate(449.5 284)"><rect style="fill:#eca36f" x="-17.5" y="-13.5" width="35" height="27"/><text y="-8.25"><tspan x="0">glucose ≤ 102.5</tspan><tspan x="0" dy="4.9">gini = 0.337</tspan><tspan x="0" dy="4.9">samples = 42</tspan><tspan x="0" dy="4.9">value = [33, 9]</tspan><tspan x="0" dy="4.9">class = 0</tspan></text></g>
<g id="n80" transform="translate(488 284)"><rect class="lb" x="-15" y="-11" width="30" height="22"/><text y="-5.8"><tspan x="0">gini = 0.0</tspan><tspan x="0" dy="4.9">samples = 3</tspan><tspan x="0" dy="4.9">value = [0, 3]</tspan><tspan x="0" dy="4.9">class = 1</tspan></text></g>
<g id="n81" transform="translate(525 284)"><rect class="lo" x="-15" y="-11" width="30" height="22"/><text y="-5.8"><tspan x="0">gini = 0.0</tspan><tspan x="0" dy="4.9">samples = 4</tspan><tspan x="0" dy="4.9">value = [4, 0]</tspan><tspan x="0" dy="4.9">class = 0</tspan></text></g>
<g id="n82" transform="translate(563.5 284)"><rect style="fill:#8bc5f0" x="-17.5" y="-13.5" width="35" height="27"/><text y="-8.25"><tspan x="0">glucose ≤ 118.5</tspan><tspan x="0" dy="4.9">gini = 0.413</tspan><tspan x="0" dy="4.9">samples = 24</tspan><tspan x="0" dy="4.9">value = [7, 17]</tspan><tspan x="0" dy="4.9">class = 1</tspan></text></g>
<g id="n83" transform="translate(641 284)"><rect class="lb" x="-15" y="-11" width="30" height="22"/><text y="-5.8"><tspan x="0">gini = 0.0</tspan><tspan x="0" dy="4.9">samples = 7</tspan><tspan x="0" dy="4.9">value = [0, 7]</tspan><tspan x="0" dy="4.9">class = 1</tspan></text></g>
<g id="n84" transform="translate(676 284)"><rect style="fill:#f2c09c" x="-16" y="-13.5" width="32" height="27"/><text y="-8.25"><tspan x="0">age ≤ 34.0</tspan><tspan x="0" dy="4.9">gini = 0.444</tspan><tspan x="0" dy="4.9">samples = 3</tspan><tspan x="0" dy="4.9">value = [2, 1]</tspan><tspan x="0" dy="4.9">class = 0</tspan></text></g>
<g id="n85" transform="translate(772.5 284)"><rect class="w" x="-17.5" y="-13.5" width="35" height="27"/><text y="-8.25"><tspan x="0">bmi ≤ 33.75</tspan><tspan x="0" dy="4.9">gini = 0.5</tspan><tspan x="0" dy="4.9">samples = 20</tspan><tspan x="0" dy="4.9">value = [10, 10]</tspan><tspan x="0" dy="4.9">class = 0</tspan></text></g>
<g id="n86" transform="translate(830.5 284)"><rect style="fill:#e99355" x="-17.5" y="-13.5" width="35" height="27"/><text y="-8.25"><tspan x="0">glucose ≤ 157.5</tspan><tspan x="0" dy="4.9">gini = 0.219</tspan><tspan x="0" dy="4.9">samples = 16</tspan><tspan x="0" dy="4.9">value = [14, 2]</tspan><tspan x="0" dy="4.9">class = 0</tspan></text></g>
<g id="n87" transform="translate(906.5 284)"><rect style="fill:#deeffb" x="-18.5" y="-13.5" width="37" height="27"/><text y="-8.25"><tspan x="0">pedigree ≤ 0.371</tspan><tspan x="0" dy="4.9">gini = 0.496</tspan><tspan x="0" dy="4.9">samples = 11</tspan><tspan x="0" dy="4.9">value = [5, 6]</tspan><tspan x="0" dy="4.9">class = 1</tspan></text></g>
<g id="n88" transform="translate(946 284)"><rect class="lb" x="-15" y="-11" width="30" height="22"/><text y="-5.8"><tspan x="0">gini = 0.0</tspan><tspan x="0" dy="4.9">samples = 6</tspan><tspan x="0" dy="4.9">value = [0, 6]</tspan><tspan x="0" dy="4.9">class = 1</tspan></text></g>
<g id="n89" transform="translate(994.5 284)"><rect style="fill:#44a2e6" x="-19" y="-13.5" width="38" height="27"/><text y="-8.25"><tspan x="0">pedigree ≤ 0.222</tspan><tspan x="0" dy="4.9">gini = 0.1</tspan><tspan x="0" dy="4.9">samples = 19</tspan><tspan x="0" dy="4.9">value = [1, 18]</tspan><tspan x="0" dy="4.9">class = 1</tspan></text></g>
<g id="n90" transform="translate(1036 284)"><rect class="w" x="-15" y="-13.5" width="30" height="27"/><text y="-8.25"><tspan x="0">age ≤ 44.0</tspan><tspan x="0" dy="4.9">gini = 0.5</tspan><tspan x="0" dy="4.9">samples = 2</tspan><tspan x="0" dy="4.9">value = [1, 1]</tspan><tspan x="0" dy="4.9">class = 0</tspan></text></g>
<g id="n91" transform="translate(1071.5 284)"><rect class="lo" x="-15" y="-11" width="30" height="22"/><text y="-5.8"><tspan x="0">gini = 0.0</tspan><tspan x="0" dy="4.9">samples = 2</tspan><tspan x="0" dy="4.9">value = [2, 0]</tspan><tspan x="0" dy="4.9">class = 0</tspan></text></g>
<g id="n92" transform="translate(1107.5 284)"><rect class="lb" x="-15" y="-11" width="30" height="22"/><text y="-5.8"><tspan x="0">gini = 0.0</tspan><tspan x="0" dy="4.9">samples = 2</tspan><tspan x="0" dy="4.9">value = [0, 2]</tspan><tspan x="0" dy="4.9">class = 1</tspan></text></g>
<g id="n93" transform="translate(1143 284)"><rect class="lb" x="-15" y="-11" width="30" height="22"/><text y="-5.8"><tspan x="0">gini = 0.0</tspan><tspan x="0" dy="4.9">samples = 9</tspan><tspan x="0" dy="4.9">value = [0, 9]</tspan><tspan x="0" dy="4.9">class = 1</tspan></text></g>
<g id="n94" transform="translate(1183 284)"><rect style="fill:#88c4ef" x="-19" y="-13.5" width="38" height="27"/><text y="-8.25"><tspan x="0">pedigree ≤ 0.208</tspan><tspan x="0" dy="4.9">gini = 0.408</tspan><tspan x="0" dy="4.9">samples = 7</tspan><tspan x="0" dy="4.9">value = [2, 5]</tspan><tspan x="0" dy="4.9">class = 1</tspan></text></g>
<g id="n95" transform="translate(1222.5 284)"><rect class="lo" x="-15" y="-11" width="30" height="22"/><text y="-5.8"><tspan x="0">gini = 0.0</tspan><tspan x="0" dy="4.9">samples = 2</tspan><tspan x="0" dy="4.9">value = [2, 0]</tspan><tspan x="0" dy="4.9">class = 0</tspan></text></g>
<g id="n96" transform="translate(1259 284)"><rect class="lb" x="-15" y="-11" width="30" height="22"/><text y="-5.8"><tspan x="0">gini = 0.0</tspan><tspan x="0" dy="4.9">samples = 1</tspan><tspan x="0" dy="4.9">value = [0, 1]</tspan><tspan x="0" dy="4.9">class = 1</tspan></text></g>

<g id="n97" transform="translate(73 322)"><rect class="lo" x="-16" y="-11" width="32" height="22"/><text y="-5.8"><tspan x="0">gini = 0.0</tspan><tspan x="0" dy="4.9">samples = 43</tspan><tspan x="0" dy="4.9">value = [43, 0]</tspan><tspan x="0" dy="4.9">class = 0</tspan></text></g>
<g id="n98" transform="translate(113 322)"><rect style="fill:#ea975c" x="-17" y="-13.5" width="34" height="27"/><text y="-8.25"><tspan x="0">bp ≤ 53.0</tspan><tspan x="0" dy="4.9">gini = 0.254</tspan><tspan x="0" dy="4.9">samples = 67</tspan><tspan x="0" dy="4.9">value = [57, 10]</tspan><tspan x="0" dy="4.9">class = 0</tspan></text></g>
<g id="n99" transform="translate(152 322)"><rect class="lb" x="-15" y="-11" width="30" height="22"/><text y="-5.8"><tspan x="0">gini = 0.0</tspan><tspan x="0" dy="4.9">samples = 2</tspan><tspan x="0" dy="4.9">value = [0, 2]</tspan><tspan x="0" dy="4.9">class = 1</tspan></text></g>
<g id="n100" transform="translate(187 322)"><rect class="lo" x="-15" y="-11" width="30" height="22"/><text y="-5.8"><tspan x="0">gini = 0.0</tspan><tspan x="0" dy="4.9">samples = 2</tspan><tspan x="0" dy="4.9">value = [2, 0]</tspan><tspan x="0" dy="4.9">class = 0</tspan></text></g>
<g id="n101" transform="translate(227 322)"><rect class="w" x="-18" y="-13.5" width="36" height="27"/><text y="-8.25"><tspan x="0">glucose ≤ 76.0</tspan><tspan x="0" dy="4.9">gini = 0.5</tspan><tspan x="0" dy="4.9">samples = 6</tspan><tspan x="0" dy="4.9">value = [3, 3]</tspan><tspan x="0" dy="4.9">class = 0</tspan></text></g>
<g id="n102" transform="translate(263 322)"><rect class="lo" x="-15" y="-11" width="30" height="22"/><text y="-5.8"><tspan x="0">gini = 0.0</tspan><tspan x="0" dy="4.9">samples = 4</tspan><tspan x="0" dy="4.9">value = [4, 0]</tspan><tspan x="0" dy="4.9">class = 0</tspan></text></g>
<g id="n103" transform="translate(303 322)"><rect class="w" x="-19" y="-13.5" width="38" height="27"/><text y="-8.25"><tspan x="0">pedigree ≤ 0.162</tspan><tspan x="0" dy="4.9">gini = 0.5</tspan><tspan x="0" dy="4.9">samples = 2</tspan><tspan x="0" dy="4.9">value = [1, 1]</tspan><tspan x="0" dy="4.9">class = 0</tspan></text></g>
<g id="n104" transform="translate(342 322)"><rect class="lo" x="-15" y="-11" width="30" height="22"/><text y="-5.8"><tspan x="0">gini = 0.0</tspan><tspan x="0" dy="4.9">samples = 5</tspan><tspan x="0" dy="4.9">value = [5, 0]</tspan><tspan x="0" dy="4.9">class = 0</tspan></text></g>
<g id="n105" transform="translate(380 322)"><rect class="lb" x="-16" y="-11" width="32" height="22"/><text y="-5.8"><tspan x="0">gini = 0.0</tspan><tspan x="0" dy="4.9">samples = 11</tspan><tspan x="0" dy="4.9">value = [0, 11]</tspan><tspan x="0" dy="4.9">class = 1</tspan></text></g>
<g id="n106" transform="translate(417 322)"><rect class="lo" x="-15" y="-11" width="30" height="22"/><text y="-5.8"><tspan x="0">gini = 0.0</tspan><tspan x="0" dy="4.9">samples = 1</tspan><tspan x="0" dy="4.9">value = [1, 0]</tspan><tspan x="0" dy="4.9">class = 0</tspan></text></g>
<g id="n107" transform="translate(453 322)"><rect class="lb" x="-15" y="-11" width="30" height="22"/><text y="-5.8"><tspan x="0">gini = 0.0</tspan><tspan x="0" dy="4.9">samples = 2</tspan><tspan x="0" dy="4.9">value = [0, 2]</tspan><tspan x="0" dy="4.9">class = 1</tspan></text></g>
<g id="n108" transform="translate(490 322)"><rect style="fill:#eb9c63" x="-16" y="-13.5" width="32" height="27"/><text y="-8.25"><tspan x="0">bmi ≤ 34.0</tspan><tspan x="0" dy="4.9">gini = 0.289</tspan><tspan x="0" dy="4.9">samples = 40</tspan><tspan x="0" dy="4.9">value = [33, 7]</tspan><tspan x="0" dy="4.9">class = 0</tspan></text></g>
<g id="n109" transform="translate(563 322)"><rect style="fill:#4da7e8" x="-19" y="-13.5" width="38" height="27"/><text y="-8.25"><tspan x="0">pedigree ≤ 1.300</tspan><tspan x="0" dy="4.9">gini = 0.165</tspan><tspan x="0" dy="4.9">samples = 11</tspan><tspan x="0" dy="4.9">value = [1, 10]</tspan><tspan x="0" dy="4.9">class = 1</tspan></text></g>
<g id="n110" transform="translate(604.5 322)"><rect style="fill:#e3f1fb" x="-16.5" y="-13.5" width="33" height="27"/><text y="-8.25"><tspan x="0">insulin ≤ 78.5</tspan><tspan x="0" dy="4.9">gini = 0.497</tspan><tspan x="0" dy="4.9">samples = 13</tspan><tspan x="0" dy="4.9">value = [6, 7]</tspan><tspan x="0" dy="4.9">class = 1</tspan></text></g>
<g id="n111" transform="translate(641 322)"><rect class="lb" x="-15" y="-11" width="30" height="22"/><text y="-5.8"><tspan x="0">gini = 0.0</tspan><tspan x="0" dy="4.9">samples = 1</tspan><tspan x="0" dy="4.9">value = [0, 1]</tspan><tspan x="0" dy="4.9">class = 1</tspan></text></g>
<g id="n112" transform="translate(677 322)"><rect class="lo" x="-15" y="-11" width="30" height="22"/><text y="-5.8"><tspan x="0">gini = 0.0</tspan><tspan x="0" dy="4.9">samples = 2</tspan><tspan x="0" dy="4.9">value = [2, 0]</tspan><tspan x="0" dy="4.9">class = 0</tspan></text></g>
<g id="n113" transform="translate(714.5 322)"><rect style="fill:#efb083" x="-15.5" y="-13.5" width="31" height="27"/><text y="-8.25"><tspan x="0">bmi ≤ 31.65</tspan><tspan x="0" dy="4.9">gini = 0.397</tspan><tspan x="0" dy="4.9">samples = 11</tspan><tspan x="0" dy="4.9">value = [8, 3]</tspan><tspan x="0" dy="4.9">class = 0</tspan></text></g>
<g id="n114" transform="translate(771 322)"><rect style="fill:#72b9ec" x="-19" y="-13.5" width="38" height="27"/><text y="-8.25"><tspan x="0">pedigree ≤ 0.535</tspan><tspan x="0" dy="4.9">gini = 0.346</tspan><tspan x="0" dy="4.9">samples = 9</tspan><tspan x="0" dy="4.9">value = [2, 7]</tspan><tspan x="0" dy="4.9">class = 1</tspan></text></g>
<g id="n115" transform="translate(829.5 322)"><rect style="fill:#e78a47" x="-16.5" y="-13.5" width="33" height="27"/><text y="-8.25"><tspan x="0">bmi ≤ 43.4</tspan><tspan x="0" dy="4.9">gini = 0.124</tspan><tspan x="0" dy="4.9">samples = 15</tspan><tspan x="0" dy="4.9">value = [14, 1]</tspan><tspan x="0" dy="4.9">class = 0</tspan></text></g>
<g id="n116" transform="translate(867 322)"><rect class="lb" x="-15" y="-11" width="30" height="22"/><text y="-5.8"><tspan x="0">gini = 0.0</tspan><tspan x="0" dy="4.9">samples = 1</tspan><tspan x="0" dy="4.9">value = [0, 1]</tspan><tspan x="0" dy="4.9">class = 1</tspan></text></g>
<g id="n117" transform="translate(905.5 322)"><rect style="fill:#9ccef2" x="-15.5" y="-13.5" width="31" height="27"/><text y="-8.25"><tspan x="0">bmi ≤ 29.7</tspan><tspan x="0" dy="4.9">gini = 0.444</tspan><tspan x="0" dy="4.9">samples = 9</tspan><tspan x="0" dy="4.9">value = [3, 6]</tspan><tspan x="0" dy="4.9">class = 1</tspan></text></g>
<g id="n118" transform="translate(941 322)"><rect class="lo" x="-15" y="-11" width="30" height="22"/><text y="-5.8"><tspan x="0">gini = 0.0</tspan><tspan x="0" dy="4.9">samples = 2</tspan><tspan x="0" dy="4.9">value = [2, 0]</tspan><tspan x="0" dy="4.9">class = 0</tspan></text></g>
<g id="n119" transform="translate(982 322)"><rect style="fill:#9ccef2" x="-17.5" y="-13.5" width="35" height="27"/><text y="-8.25"><tspan x="0">pedigree ≤ 0.171</tspan><tspan x="0" dy="4.9">gini = 0.444</tspan><tspan x="0" dy="4.9">samples = 3</tspan><tspan x="0" dy="4.9">value = [1, 2]</tspan><tspan x="0" dy="4.9">class = 1</tspan></text></g>
<g id="n120" transform="translate(1022 322)"><rect class="lb" x="-16" y="-11" width="32" height="22"/><text y="-5.8"><tspan x="0">gini = 0.0</tspan><tspan x="0" dy="4.9">samples = 16</tspan><tspan x="0" dy="4.9">value = [0, 16]</tspan><tspan x="0" dy="4.9">class = 1</tspan></text></g>
<g id="n121" transform="translate(1059 322)"><rect class="lo" x="-15" y="-11" width="30" height="22"/><text y="-5.8"><tspan x="0">gini = 0.0</tspan><tspan x="0" dy="4.9">samples = 1</tspan><tspan x="0" dy="4.9">value = [1, 0]</tspan><tspan x="0" dy="4.9">class = 0</tspan></text></g>
<g id="n122" transform="translate(1095.5 322)"><rect class="lb" x="-15" y="-11" width="30" height="22"/><text y="-5.8"><tspan x="0">gini = 0.0</tspan><tspan x="0" dy="4.9">samples = 1</tspan><tspan x="0" dy="4.9">value = [0, 1]</tspan><tspan x="0" dy="4.9">class = 1</tspan></text></g>
<g id="n123" transform="translate(1163.5 322)"><rect class="lo" x="-15" y="-11" width="30" height="22"/><text y="-5.8"><tspan x="0">gini = 0.0</tspan><tspan x="0" dy="4.9">samples = 1</tspan><tspan x="0" dy="4.9">value = [1, 0]</tspan><tspan x="0" dy="4.9">class = 0</tspan></text></g>
<g id="n124" transform="translate(1202.5 322)"><rect style="fill:#61b1ea" x="-17.5" y="-13.5" width="35" height="27"/><text y="-8.25"><tspan x="0">glucose ≤ 181.5</tspan><tspan x="0" dy="4.9">gini = 0.278</tspan><tspan x="0" dy="4.9">samples = 6</tspan><tspan x="0" dy="4.9">value = [1, 5]</tspan><tspan x="0" dy="4.9">class = 1</tspan></text></g>

<g id="n125" transform="translate(109.5 360)"><rect class="w" x="-16.5" y="-13.5" width="33" height="27"/><text y="-8.25"><tspan x="0">pregnant ≤ 2.5</tspan><tspan x="0" dy="4.9">gini = 0.5</tspan><tspan x="0" dy="4.9">samples = 6</tspan><tspan x="0" dy="4.9">value = [3, 3]</tspan><tspan x="0" dy="4.9">class = 0</tspan></text></g>
<g id="n126" transform="translate(151 360)"><rect style="fill:#e89153" x="-19" y="-13.5" width="38" height="27"/><text y="-8.25"><tspan x="0">pedigree ≤ 0.661</tspan><tspan x="0" dy="4.9">gini = 0.203</tspan><tspan x="0" dy="4.9">samples = 61</tspan><tspan x="0" dy="4.9">value = [54, 7]</tspan><tspan x="0" dy="4.9">class = 0</tspan></text></g>
<g id="n127" transform="translate(199 360)"><rect class="lo" x="-15" y="-11" width="30" height="22"/><text y="-5.8"><tspan x="0">gini = 0.0</tspan><tspan x="0" dy="4.9">samples = 2</tspan><tspan x="0" dy="4.9">value = [2, 0]</tspan><tspan x="0" dy="4.9">class = 0</tspan></text></g>
<g id="n128" transform="translate(238 360)"><rect style="fill:#7bbeee" x="-19" y="-13.5" width="38" height="27"/><text y="-8.25"><tspan x="0">pedigree ≤ 0.432</tspan><tspan x="0" dy="4.9">gini = 0.375</tspan><tspan x="0" dy="4.9">samples = 4</tspan><tspan x="0" dy="4.9">value = [1, 3]</tspan><tspan x="0" dy="4.9">class = 1</tspan></text></g>
<g id="n129" transform="translate(294 360)"><rect class="lo" x="-15" y="-11" width="30" height="22"/><text y="-5.8"><tspan x="0">gini = 0.0</tspan><tspan x="0" dy="4.9">samples = 1</tspan><tspan x="0" dy="4.9">value = [1, 0]</tspan><tspan x="0" dy="4.9">class = 0</tspan></text></g>
<g id="n130" transform="translate(330 360)"><rect class="lb" x="-15" y="-11" width="30" height="22"/><text y="-5.8"><tspan x="0">gini = 0.0</tspan><tspan x="0" dy="4.9">samples = 1</tspan><tspan x="0" dy="4.9">value = [0, 1]</tspan><tspan x="0" dy="4.9">class = 1</tspan></text></g>
<g id="n131" transform="translate(452 360)"><rect style="fill:#f1bc95" x="-16" y="-13.5" width="32" height="27"/><text y="-8.25"><tspan x="0">age ≤ 35.0</tspan><tspan x="0" dy="4.9">gini = 0.434</tspan><tspan x="0" dy="4.9">samples = 22</tspan><tspan x="0" dy="4.9">value = [15, 7]</tspan><tspan x="0" dy="4.9">class = 0</tspan></text></g>
<g id="n132" transform="translate(490 360)"><rect class="lo" x="-16" y="-11" width="32" height="22"/><text y="-5.8"><tspan x="0">gini = 0.0</tspan><tspan x="0" dy="4.9">samples = 18</tspan><tspan x="0" dy="4.9">value = [18, 0]</tspan><tspan x="0" dy="4.9">class = 0</tspan></text></g>
<g id="n133" transform="translate(529 360)"><rect class="lb" x="-16" y="-11" width="32" height="22"/><text y="-5.8"><tspan x="0">gini = 0.0</tspan><tspan x="0" dy="4.9">samples = 10</tspan><tspan x="0" dy="4.9">value = [0, 10]</tspan><tspan x="0" dy="4.9">class = 1</tspan></text></g>
<g id="n134" transform="translate(566 360)"><rect class="lo" x="-15" y="-11" width="30" height="22"/><text y="-5.8"><tspan x="0">gini = 0.0</tspan><tspan x="0" dy="4.9">samples = 1</tspan><tspan x="0" dy="4.9">value = [1, 0]</tspan><tspan x="0" dy="4.9">class = 0</tspan></text></g>
<g id="n135" transform="translate(602 360)"><rect class="lo" x="-15" y="-11" width="30" height="22"/><text y="-5.8"><tspan x="0">gini = 0.0</tspan><tspan x="0" dy="4.9">samples = 3</tspan><tspan x="0" dy="4.9">value = [3, 0]</tspan><tspan x="0" dy="4.9">class = 0</tspan></text></g>
<g id="n136" transform="translate(639 360)"><rect style="fill:#8ec7f0" x="-16" y="-13.5" width="32" height="27"/><text y="-8.25"><tspan x="0">bmi ≤ 33.65</tspan><tspan x="0" dy="4.9">gini = 0.42</tspan><tspan x="0" dy="4.9">samples = 10</tspan><tspan x="0" dy="4.9">value = [3, 7]</tspan><tspan x="0" dy="4.9">class = 1</tspan></text></g>
<g id="n137" transform="translate(676 360)"><rect class="w" x="-16" y="-13.5" width="32" height="27"/><text y="-8.25"><tspan x="0">insulin ≤ 228.0</tspan><tspan x="0" dy="4.9">gini = 0.5</tspan><tspan x="0" dy="4.9">samples = 6</tspan><tspan x="0" dy="4.9">value = [3, 3]</tspan><tspan x="0" dy="4.9">class = 0</tspan></text></g>
<g id="n138" transform="translate(714 360)"><rect class="lo" x="-15" y="-11" width="30" height="22"/><text y="-5.8"><tspan x="0">gini = 0.0</tspan><tspan x="0" dy="4.9">samples = 5</tspan><tspan x="0" dy="4.9">value = [5, 0]</tspan><tspan x="0" dy="4.9">class = 0</tspan></text></g>
<g id="n139" transform="translate(750.5 360)"><rect class="lb" x="-15" y="-11" width="30" height="22"/><text y="-5.8"><tspan x="0">gini = 0.0</tspan><tspan x="0" dy="4.9">samples = 6</tspan><tspan x="0" dy="4.9">value = [0, 6]</tspan><tspan x="0" dy="4.9">class = 1</tspan></text></g>
<g id="n140" transform="translate(789 360)"><rect style="fill:#f2c09c" x="-18" y="-13.5" width="36" height="27"/><text y="-8.25"><tspan x="0">glucose ≤ 135.0</tspan><tspan x="0" dy="4.9">gini = 0.444</tspan><tspan x="0" dy="4.9">samples = 3</tspan><tspan x="0" dy="4.9">value = [2, 1]</tspan><tspan x="0" dy="4.9">class = 0</tspan></text></g>
<g id="n141" transform="translate(829 360)"><rect class="lo" x="-16" y="-11" width="32" height="22"/><text y="-5.8"><tspan x="0">gini = 0.0</tspan><tspan x="0" dy="4.9">samples = 13</tspan><tspan x="0" dy="4.9">value = [13, 0]</tspan><tspan x="0" dy="4.9">class = 0</tspan></text></g>
<g id="n142" transform="translate(867.5 360)"><rect class="w" x="-16.5" y="-13.5" width="33" height="27"/><text y="-8.25"><tspan x="0">pregnant ≤ 5.0</tspan><tspan x="0" dy="4.9">gini = 0.5</tspan><tspan x="0" dy="4.9">samples = 2</tspan><tspan x="0" dy="4.9">value = [1, 1]</tspan><tspan x="0" dy="4.9">class = 0</tspan></text></g>
<g id="n143" transform="translate(905 360)"><rect class="lb" x="-15" y="-11" width="30" height="22"/><text y="-5.8"><tspan x="0">gini = 0.0</tspan><tspan x="0" dy="4.9">samples = 3</tspan><tspan x="0" dy="4.9">value = [0, 3]</tspan><tspan x="0" dy="4.9">class = 1</tspan></text></g>
<g id="n144" transform="translate(942 360)"><rect class="w" x="-15" y="-13.5" width="30" height="27"/><text y="-8.25"><tspan x="0">bmi ≤ 32.45</tspan><tspan x="0" dy="4.9">gini = 0.5</tspan><tspan x="0" dy="4.9">samples = 6</tspan><tspan x="0" dy="4.9">value = [3, 3]</tspan><tspan x="0" dy="4.9">class = 0</tspan></text></g>
<g id="n145" transform="translate(979.5 360)"><rect class="lb" x="-15" y="-11" width="30" height="22"/><text y="-5.8"><tspan x="0">gini = 0.0</tspan><tspan x="0" dy="4.9">samples = 2</tspan><tspan x="0" dy="4.9">value = [0, 2]</tspan><tspan x="0" dy="4.9">class = 1</tspan></text></g>
<g id="n146" transform="translate(1015.5 360)"><rect class="lo" x="-15" y="-11" width="30" height="22"/><text y="-5.8"><tspan x="0">gini = 0.0</tspan><tspan x="0" dy="4.9">samples = 1</tspan><tspan x="0" dy="4.9">value = [1, 0]</tspan><tspan x="0" dy="4.9">class = 0</tspan></text></g>
<g id="n147" transform="translate(1184.5 360)"><rect class="lb" x="-15" y="-11" width="30" height="22"/><text y="-5.8"><tspan x="0">gini = 0.0</tspan><tspan x="0" dy="4.9">samples = 4</tspan><tspan x="0" dy="4.9">value = [0, 4]</tspan><tspan x="0" dy="4.9">class = 1</tspan></text></g>
<g id="n148" transform="translate(1221 360)"><rect class="w" x="-16" y="-13.5" width="32" height="27"/><text y="-8.25"><tspan x="0">insulin ≤ 68.0</tspan><tspan x="0" dy="4.9">gini = 0.5</tspan><tspan x="0" dy="4.9">samples = 2</tspan><tspan x="0" dy="4.9">value = [1, 1]</tspan><tspan x="0" dy="4.9">class = 0</tspan></text></g>

<g id="n149" transform="translate(71.5 398)"><rect style="fill:#eeab7b" x="-18.5" y="-13.5" width="37" height="27"/><text y="-8.25"><tspan x="0">pedigree ≤ 0.595</tspan><tspan x="0" dy="4.9">gini = 0.375</tspan><tspan x="0" dy="4.9">samples = 4</tspan><tspan x="0" dy="4.9">value = [3, 1]</tspan><tspan x="0" dy="4.9">class = 0</tspan></text></g>
<g id="n150" transform="translate(112 398)"><rect class="lb" x="-15" y="-11" width="30" height="22"/><text y="-5.8"><tspan x="0">gini = 0.0</tspan><tspan x="0" dy="4.9">samples = 2</tspan><tspan x="0" dy="4.9">value = [0, 2]</tspan><tspan x="0" dy="4.9">class = 1</tspan></text></g>
<g id="n151" transform="translate(150.5 398)"><rect style="fill:#e78c4b" x="-17.5" y="-13.5" width="35" height="27"/><text y="-8.25"><tspan x="0">insulin ≤ 36.5</tspan><tspan x="0" dy="4.9">gini = 0.15</tspan><tspan x="0" dy="4.9">samples = 49</tspan><tspan x="0" dy="4.9">value = [45, 4]</tspan><tspan x="0" dy="4.9">class = 0</tspan></text></g>
<g id="n152" transform="translate(187.5 398)"><rect style="fill:#eeab7b" x="-15.5" y="-13.5" width="31" height="27"/><text y="-8.25"><tspan x="0">insulin ≤ 65.5</tspan><tspan x="0" dy="4.9">gini = 0.375</tspan><tspan x="0" dy="4.9">samples = 12</tspan><tspan x="0" dy="4.9">value = [9, 3]</tspan><tspan x="0" dy="4.9">class = 0</tspan></text></g>
<g id="n153" transform="translate(231.5 398)"><rect class="lb" x="-15" y="-11" width="30" height="22"/><text y="-5.8"><tspan x="0">gini = 0.0</tspan><tspan x="0" dy="4.9">samples = 3</tspan><tspan x="0" dy="4.9">value = [0, 3]</tspan><tspan x="0" dy="4.9">class = 1</tspan></text></g>
<g id="n154" transform="translate(268 398)"><rect class="lo" x="-15" y="-11" width="30" height="22"/><text y="-5.8"><tspan x="0">gini = 0.0</tspan><tspan x="0" dy="4.9">samples = 1</tspan><tspan x="0" dy="4.9">value = [1, 0]</tspan><tspan x="0" dy="4.9">class = 0</tspan></text></g>
<g id="n155" transform="translate(433 398)"><rect class="lo" x="-15" y="-11" width="30" height="22"/><text y="-5.8"><tspan x="0">gini = 0.0</tspan><tspan x="0" dy="4.9">samples = 6</tspan><tspan x="0" dy="4.9">value = [6, 0]</tspan><tspan x="0" dy="4.9">class = 0</tspan></text></g>
<g id="n156" transform="translate(472.5 398)"><rect style="fill:#f9e3d3" x="-18.5" y="-13.5" width="37" height="27"/><text y="-8.25"><tspan x="0">glucose ≤ 122.5</tspan><tspan x="0" dy="4.9">gini = 0.492</tspan><tspan x="0" dy="4.9">samples = 16</tspan><tspan x="0" dy="4.9">value = [9, 7]</tspan><tspan x="0" dy="4.9">class = 0</tspan></text></g>
<g id="n157" transform="translate(603.5 398)"><rect class="lb" x="-15" y="-11" width="30" height="22"/><text y="-5.8"><tspan x="0">gini = 0.0</tspan><tspan x="0" dy="4.9">samples = 4</tspan><tspan x="0" dy="4.9">value = [0, 4]</tspan><tspan x="0" dy="4.9">class = 1</tspan></text></g>
<g id="n158" transform="translate(639.5 398)"><rect class="w" x="-15.5" y="-13.5" width="31" height="27"/><text y="-8.25"><tspan x="0">age ≤ 32.5</tspan><tspan x="0" dy="4.9">gini = 0.5</tspan><tspan x="0" dy="4.9">samples = 6</tspan><tspan x="0" dy="4.9">value = [3, 3]</tspan><tspan x="0" dy="4.9">class = 0</tspan></text></g>
<g id="n159" transform="translate(676 398)"><rect style="fill:#eeab7b" x="-16" y="-13.5" width="32" height="27"/><text y="-8.25"><tspan x="0">bp ≤ 67.0</tspan><tspan x="0" dy="4.9">gini = 0.375</tspan><tspan x="0" dy="4.9">samples = 4</tspan><tspan x="0" dy="4.9">value = [3, 1]</tspan><tspan x="0" dy="4.9">class = 0</tspan></text></g>
<g id="n160" transform="translate(713 398)"><rect class="lb" x="-15" y="-11" width="30" height="22"/><text y="-5.8"><tspan x="0">gini = 0.0</tspan><tspan x="0" dy="4.9">samples = 2</tspan><tspan x="0" dy="4.9">value = [0, 2]</tspan><tspan x="0" dy="4.9">class = 1</tspan></text></g>
<g id="n161" transform="translate(761 398)"><rect class="lb" x="-15" y="-11" width="30" height="22"/><text y="-5.8"><tspan x="0">gini = 0.0</tspan><tspan x="0" dy="4.9">samples = 1</tspan><tspan x="0" dy="4.9">value = [0, 1]</tspan><tspan x="0" dy="4.9">class = 1</tspan></text></g>
<g id="n162" transform="translate(797 398)"><rect class="lo" x="-15" y="-11" width="30" height="22"/><text y="-5.8"><tspan x="0">gini = 0.0</tspan><tspan x="0" dy="4.9">samples = 2</tspan><tspan x="0" dy="4.9">value = [2, 0]</tspan><tspan x="0" dy="4.9">class = 0</tspan></text></g>
<g id="n163" transform="translate(841 398)"><rect class="lb" x="-15" y="-11" width="30" height="22"/><text y="-5.8"><tspan x="0">gini = 0.0</tspan><tspan x="0" dy="4.9">samples = 1</tspan><tspan x="0" dy="4.9">value = [0, 1]</tspan><tspan x="0" dy="4.9">class = 1</tspan></text></g>
<g id="n164" transform="translate(877 398)"><rect class="lo" x="-15" y="-11" width="30" height="22"/><text y="-5.8"><tspan x="0">gini = 0.0</tspan><tspan x="0" dy="4.9">samples = 1</tspan><tspan x="0" dy="4.9">value = [1, 0]</tspan><tspan x="0" dy="4.9">class = 0</tspan></text></g>
<g id="n165" transform="translate(924 398)"><rect style="fill:#eeab7b" x="-17" y="-13.5" width="34" height="27"/><text y="-8.25"><tspan x="0">insulin ≤ 287.5</tspan><tspan x="0" dy="4.9">gini = 0.375</tspan><tspan x="0" dy="4.9">samples = 4</tspan><tspan x="0" dy="4.9">value = [3, 1]</tspan><tspan x="0" dy="4.9">class = 0</tspan></text></g>
<g id="n166" transform="translate(962 398)"><rect class="lb" x="-15" y="-11" width="30" height="22"/><text y="-5.8"><tspan x="0">gini = 0.0</tspan><tspan x="0" dy="4.9">samples = 2</tspan><tspan x="0" dy="4.9">value = [0, 2]</tspan><tspan x="0" dy="4.9">class = 1</tspan></text></g>
<g id="n167" transform="translate(1203 398)"><rect class="lb" x="-15" y="-11" width="30" height="22"/><text y="-5.8"><tspan x="0">gini = 0.0</tspan><tspan x="0" dy="4.9">samples = 1</tspan><tspan x="0" dy="4.9">value = [0, 1]</tspan><tspan x="0" dy="4.9">class = 1</tspan></text></g>
<g id="n168" transform="translate(1238.5 398)"><rect class="lo" x="-15" y="-11" width="30" height="22"/><text y="-5.8"><tspan x="0">gini = 0.0</tspan><tspan x="0" dy="4.9">samples = 1</tspan><tspan x="0" dy="4.9">value = [1, 0]</tspan><tspan x="0" dy="4.9">class = 0</tspan></text></g>

<g id="n169" transform="translate(37 436)"><rect class="lo" x="-15" y="-11" width="30" height="22"/><text y="-5.8"><tspan x="0">gini = 0.0</tspan><tspan x="0" dy="4.9">samples = 3</tspan><tspan x="0" dy="4.9">value = [3, 0]</tspan><tspan x="0" dy="4.9">class = 0</tspan></text></g>
<g id="n170" transform="translate(73 436)"><rect class="lb" x="-15" y="-11" width="30" height="22"/><text y="-5.8"><tspan x="0">gini = 0.0</tspan><tspan x="0" dy="4.9">samples = 1</tspan><tspan x="0" dy="4.9">value = [0, 1]</tspan><tspan x="0" dy="4.9">class = 1</tspan></text></g>
<g id="n171" transform="translate(112 436)"><rect style="fill:#eca06b" x="-16" y="-13.5" width="32" height="27"/><text y="-8.25"><tspan x="0">insulin ≤ 34.0</tspan><tspan x="0" dy="4.9">gini = 0.32</tspan><tspan x="0" dy="4.9">samples = 20</tspan><tspan x="0" dy="4.9">value = [16, 4]</tspan><tspan x="0" dy="4.9">class = 0</tspan></text></g>
<g id="n172" transform="translate(150.5 436)"><rect class="lo" x="-16" y="-11" width="32" height="22"/><text y="-5.8"><tspan x="0">gini = 0.0</tspan><tspan x="0" dy="4.9">samples = 29</tspan><tspan x="0" dy="4.9">value = [29, 0]</tspan><tspan x="0" dy="4.9">class = 0</tspan></text></g>
<g id="n173" transform="translate(187.5 436)"><rect class="lo" x="-15" y="-11" width="30" height="22"/><text y="-5.8"><tspan x="0">gini = 0.0</tspan><tspan x="0" dy="4.9">samples = 7</tspan><tspan x="0" dy="4.9">value = [7, 0]</tspan><tspan x="0" dy="4.9">class = 0</tspan></text></g>
<g id="n174" transform="translate(224 436)"><rect style="fill:#bddef6" x="-15.5" y="-13.5" width="31" height="27"/><text y="-8.25"><tspan x="0">bmi ≤ 38.55</tspan><tspan x="0" dy="4.9">gini = 0.48</tspan><tspan x="0" dy="4.9">samples = 5</tspan><tspan x="0" dy="4.9">value = [2, 3]</tspan><tspan x="0" dy="4.9">class = 1</tspan></text></g>
<g id="n175" transform="translate(451.5 436)"><rect style="fill:#f1b991" x="-18.5" y="-13.5" width="37" height="27"/><text y="-8.25"><tspan x="0">pedigree ≤ 0.375</tspan><tspan x="0" dy="4.9">gini = 0.426</tspan><tspan x="0" dy="4.9">samples = 13</tspan><tspan x="0" dy="4.9">value = [9, 4]</tspan><tspan x="0" dy="4.9">class = 0</tspan></text></g>
<g id="n176" transform="translate(492 436)"><rect class="lb" x="-15" y="-11" width="30" height="22"/><text y="-5.8"><tspan x="0">gini = 0.0</tspan><tspan x="0" dy="4.9">samples = 3</tspan><tspan x="0" dy="4.9">value = [0, 3]</tspan><tspan x="0" dy="4.9">class = 1</tspan></text></g>
<g id="n177" transform="translate(603 436)"><rect style="fill:#7bbeee" x="-15" y="-13.5" width="30" height="27"/><text y="-8.25"><tspan x="0">bp ≤ 58.0</tspan><tspan x="0" dy="4.9">gini = 0.375</tspan><tspan x="0" dy="4.9">samples = 4</tspan><tspan x="0" dy="4.9">value = [1, 3]</tspan><tspan x="0" dy="4.9">class = 1</tspan></text></g>
<g id="n178" transform="translate(639 436)"><rect class="lo" x="-15" y="-11" width="30" height="22"/><text y="-5.8"><tspan x="0">gini = 0.0</tspan><tspan x="0" dy="4.9">samples = 2</tspan><tspan x="0" dy="4.9">value = [2, 0]</tspan><tspan x="0" dy="4.9">class = 0</tspan></text></g>
<g id="n179" transform="translate(676 436)"><rect class="lo" x="-15" y="-11" width="30" height="22"/><text y="-5.8"><tspan x="0">gini = 0.0</tspan><tspan x="0" dy="4.9">samples = 3</tspan><tspan x="0" dy="4.9">value = [3, 0]</tspan><tspan x="0" dy="4.9">class = 0</tspan></text></g>
<g id="n180" transform="translate(711.5 436)"><rect class="lb" x="-15" y="-11" width="30" height="22"/><text y="-5.8"><tspan x="0">gini = 0.0</tspan><tspan x="0" dy="4.9">samples = 1</tspan><tspan x="0" dy="4.9">value = [0, 1]</tspan><tspan x="0" dy="4.9">class = 1</tspan></text></g>
<g id="n181" transform="translate(906 436)"><rect class="lo" x="-15" y="-11" width="30" height="22"/><text y="-5.8"><tspan x="0">gini = 0.0</tspan><tspan x="0" dy="4.9">samples = 3</tspan><tspan x="0" dy="4.9">value = [3, 0]</tspan><tspan x="0" dy="4.9">class = 0</tspan></text></g>
<g id="n182" transform="translate(942 436)"><rect class="lb" x="-15" y="-11" width="30" height="22"/><text y="-5.8"><tspan x="0">gini = 0.0</tspan><tspan x="0" dy="4.9">samples = 1</tspan><tspan x="0" dy="4.9">value = [0, 1]</tspan><tspan x="0" dy="4.9">class = 1</tspan></text></g>

<g id="n183" transform="translate(93.5 474)"><rect style="fill:#ea995e" x="-16.5" y="-13.5" width="33" height="27"/><text y="-8.25"><tspan x="0">bmi ≤ 33.65</tspan><tspan x="0" dy="4.9">gini = 0.266</tspan><tspan x="0" dy="4.9">samples = 19</tspan><tspan x="0" dy="4.9">value = [16, 3]</tspan><tspan x="0" dy="4.9">class = 0</tspan></text></g>
<g id="n184" transform="translate(131 474)"><rect class="lb" x="-15" y="-11" width="30" height="22"/><text y="-5.8"><tspan x="0">gini = 0.0</tspan><tspan x="0" dy="4.9">samples = 1</tspan><tspan x="0" dy="4.9">value = [0, 1]</tspan><tspan x="0" dy="4.9">class = 1</tspan></text></g>
<g id="n185" transform="translate(205.5 474)"><rect class="lb" x="-15" y="-11" width="30" height="22"/><text y="-5.8"><tspan x="0">gini = 0.0</tspan><tspan x="0" dy="4.9">samples = 3</tspan><tspan x="0" dy="4.9">value = [0, 3]</tspan><tspan x="0" dy="4.9">class = 1</tspan></text></g>
<g id="n186" transform="translate(241.5 474)"><rect class="lo" x="-15" y="-11" width="30" height="22"/><text y="-5.8"><tspan x="0">gini = 0.0</tspan><tspan x="0" dy="4.9">samples = 2</tspan><tspan x="0" dy="4.9">value = [2, 0]</tspan><tspan x="0" dy="4.9">class = 0</tspan></text></g>
<g id="n187" transform="translate(432.5 474)"><rect style="fill:#eb9d65" x="-16.5" y="-13.5" width="33" height="27"/><text y="-8.25"><tspan x="0">pregnant ≤ 6.5</tspan><tspan x="0" dy="4.9">gini = 0.298</tspan><tspan x="0" dy="4.9">samples = 11</tspan><tspan x="0" dy="4.9">value = [9, 2]</tspan><tspan x="0" dy="4.9">class = 0</tspan></text></g>
<g id="n188" transform="translate(470.5 474)"><rect class="lb" x="-15" y="-11" width="30" height="22"/><text y="-5.8"><tspan x="0">gini = 0.0</tspan><tspan x="0" dy="4.9">samples = 2</tspan><tspan x="0" dy="4.9">value = [0, 2]</tspan><tspan x="0" dy="4.9">class = 1</tspan></text></g>
<g id="n189" transform="translate(585 474)"><rect class="lo" x="-15" y="-11" width="30" height="22"/><text y="-5.8"><tspan x="0">gini = 0.0</tspan><tspan x="0" dy="4.9">samples = 1</tspan><tspan x="0" dy="4.9">value = [1, 0]</tspan><tspan x="0" dy="4.9">class = 0</tspan></text></g>
<g id="n190" transform="translate(621 474)"><rect class="lb" x="-15" y="-11" width="30" height="22"/><text y="-5.8"><tspan x="0">gini = 0.0</tspan><tspan x="0" dy="4.9">samples = 3</tspan><tspan x="0" dy="4.9">value = [0, 3]</tspan><tspan x="0" dy="4.9">class = 1</tspan></text></g>

<g id="n191" transform="translate(73.5 512)"><rect style="fill:#f2c09c" x="-15.5" y="-13.5" width="31" height="27"/><text y="-8.25"><tspan x="0">bp ≤ 71.0</tspan><tspan x="0" dy="4.9">gini = 0.444</tspan><tspan x="0" dy="4.9">samples = 6</tspan><tspan x="0" dy="4.9">value = [4, 2]</tspan><tspan x="0" dy="4.9">class = 0</tspan></text></g>
<g id="n192" transform="translate(114 512)"><rect style="fill:#e78b49" x="-19" y="-13.5" width="38" height="27"/><text y="-8.25"><tspan x="0">pedigree ≤ 0.458</tspan><tspan x="0" dy="4.9">gini = 0.142</tspan><tspan x="0" dy="4.9">samples = 13</tspan><tspan x="0" dy="4.9">value = [12, 1]</tspan><tspan x="0" dy="4.9">class = 0</tspan></text></g>
<g id="n193" transform="translate(414 512)"><rect style="fill:#f2c09c" x="-15" y="-13.5" width="30" height="27"/><text y="-8.25"><tspan x="0">bp ≤ 85.0</tspan><tspan x="0" dy="4.9">gini = 0.444</tspan><tspan x="0" dy="4.9">samples = 6</tspan><tspan x="0" dy="4.9">value = [4, 2]</tspan><tspan x="0" dy="4.9">class = 0</tspan></text></g>
<g id="n194" transform="translate(450.5 512)"><rect class="lo" x="-15" y="-11" width="30" height="22"/><text y="-5.8"><tspan x="0">gini = 0.0</tspan><tspan x="0" dy="4.9">samples = 5</tspan><tspan x="0" dy="4.9">value = [5, 0]</tspan><tspan x="0" dy="4.9">class = 0</tspan></text></g>

<g id="n195" transform="translate(35.5 550)"><rect class="lo" x="-15" y="-11" width="30" height="22"/><text y="-5.8"><tspan x="0">gini = 0.0</tspan><tspan x="0" dy="4.9">samples = 3</tspan><tspan x="0" dy="4.9">value = [3, 0]</tspan><tspan x="0" dy="4.9">class = 0</tspan></text></g>
<g id="n196" transform="translate(74 550)"><rect style="fill:#9ccef2" x="-18" y="-13.5" width="36" height="27"/><text y="-8.25"><tspan x="0">pedigree ≤ 0.44</tspan><tspan x="0" dy="4.9">gini = 0.444</tspan><tspan x="0" dy="4.9">samples = 3</tspan><tspan x="0" dy="4.9">value = [1, 2]</tspan><tspan x="0" dy="4.9">class = 1</tspan></text></g>
<g id="n197" transform="translate(112.5 550)"><rect class="lo" x="-16" y="-11" width="32" height="22"/><text y="-5.8"><tspan x="0">gini = 0.0</tspan><tspan x="0" dy="4.9">samples = 11</tspan><tspan x="0" dy="4.9">value = [11, 0]</tspan><tspan x="0" dy="4.9">class = 0</tspan></text></g>
<g id="n198" transform="translate(151 550)"><rect class="w" x="-15" y="-13.5" width="30" height="27"/><text y="-8.25"><tspan x="0">age ≤ 26.0</tspan><tspan x="0" dy="4.9">gini = 0.5</tspan><tspan x="0" dy="4.9">samples = 2</tspan><tspan x="0" dy="4.9">value = [1, 1]</tspan><tspan x="0" dy="4.9">class = 0</tspan></text></g>
<g id="n199" transform="translate(396 550)"><rect style="fill:#9ccef2" x="-15" y="-13.5" width="30" height="27"/><text y="-8.25"><tspan x="0">bp ≤ 75.0</tspan><tspan x="0" dy="4.9">gini = 0.444</tspan><tspan x="0" dy="4.9">samples = 3</tspan><tspan x="0" dy="4.9">value = [1, 2]</tspan><tspan x="0" dy="4.9">class = 1</tspan></text></g>
<g id="n200" transform="translate(432 550)"><rect class="lo" x="-15" y="-11" width="30" height="22"/><text y="-5.8"><tspan x="0">gini = 0.0</tspan><tspan x="0" dy="4.9">samples = 3</tspan><tspan x="0" dy="4.9">value = [3, 0]</tspan><tspan x="0" dy="4.9">class = 0</tspan></text></g>

<g id="n201" transform="translate(40 588)"><rect class="lb" x="-15" y="-11" width="30" height="22"/><text y="-5.8"><tspan x="0">gini = 0.0</tspan><tspan x="0" dy="4.9">samples = 2</tspan><tspan x="0" dy="4.9">value = [0, 2]</tspan><tspan x="0" dy="4.9">class = 1</tspan></text></g>
<g id="n202" transform="translate(76 588)"><rect class="lo" x="-15" y="-11" width="30" height="22"/><text y="-5.8"><tspan x="0">gini = 0.0</tspan><tspan x="0" dy="4.9">samples = 1</tspan><tspan x="0" dy="4.9">value = [1, 0]</tspan><tspan x="0" dy="4.9">class = 0</tspan></text></g>
<g id="n203" transform="translate(132 588)"><rect class="lo" x="-15" y="-11" width="30" height="22"/><text y="-5.8"><tspan x="0">gini = 0.0</tspan><tspan x="0" dy="4.9">samples = 1</tspan><tspan x="0" dy="4.9">value = [1, 0]</tspan><tspan x="0" dy="4.9">class = 0</tspan></text></g>
<g id="n204" transform="translate(168.5 588)"><rect class="lb" x="-15" y="-11" width="30" height="22"/><text y="-5.8"><tspan x="0">gini = 0.0</tspan><tspan x="0" dy="4.9">samples = 1</tspan><tspan x="0" dy="4.9">value = [0, 1]</tspan><tspan x="0" dy="4.9">class = 1</tspan></text></g>
<g id="n205" transform="translate(378 588)"><rect class="lo" x="-15" y="-11" width="30" height="22"/><text y="-5.8"><tspan x="0">gini = 0.0</tspan><tspan x="0" dy="4.9">samples = 1</tspan><tspan x="0" dy="4.9">value = [1, 0]</tspan><tspan x="0" dy="4.9">class = 0</tspan></text></g>
<g id="n206" transform="translate(414 588)"><rect class="lb" x="-15" y="-11" width="30" height="22"/><text y="-5.8"><tspan x="0">gini = 0.0</tspan><tspan x="0" dy="4.9">samples = 2</tspan><tspan x="0" dy="4.9">value = [0, 2]</tspan><tspan x="0" dy="4.9">class = 1</tspan></text></g>

<g id="annotation">
<line x1="1443" y1="283" x2="1338" y2="227" stroke="#5b6767" stroke-width="2"/>
<polygon points="1327,221 1336.9,232 1341.7,223.2" fill="#5b6767"/>
<text x="1381" y="323" style="font-size:36px;text-anchor:start;fill:#111">Procurado</text>
</g>
</svg>
